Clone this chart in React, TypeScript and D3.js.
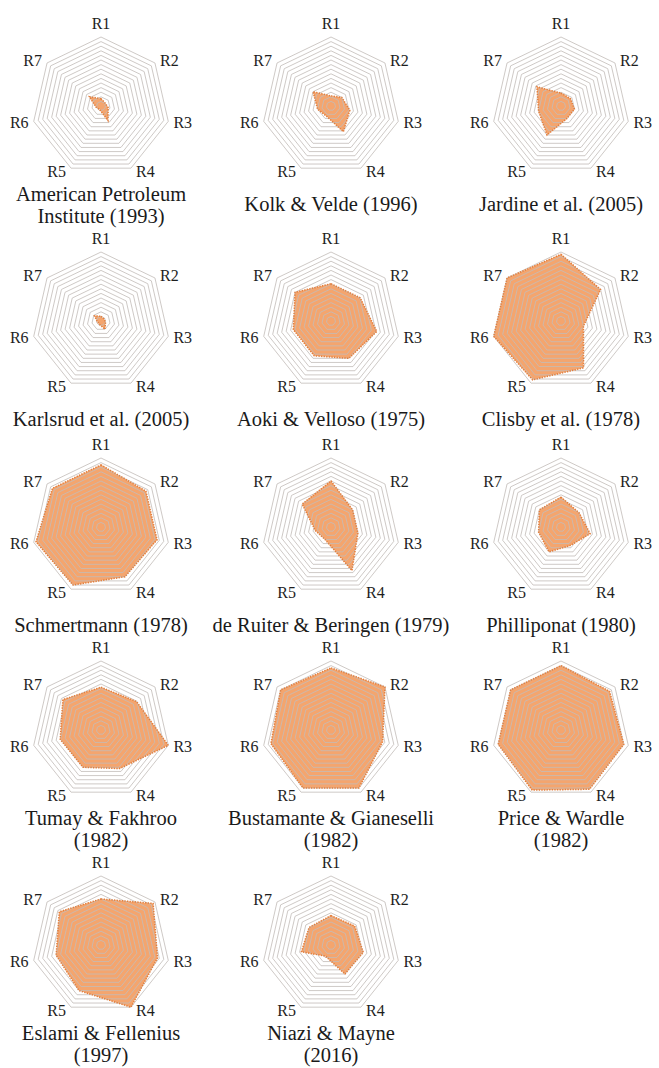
import React from "react";
import * as d3 from "d3";

const categories = ["R1", "R2", "R3", "R4", "R5", "R6", "R7"];
const ringLevels = [1, 2, 3, 4, 5, 6, 7, 8, 9, 10, 11, 12, 13, 14, 15];

const apiValues = [1.6, 1.1, 1.6, 3.5, 0.8, 1.1, 3.2];
const kolkValues = [2.2, 3, 4.2, 6.2, 2.4, 3, 5];
const jardineValues = [2.8, 2.6, 3, 3, 7, 5, 6.7];
const karlsrudValues = [1, 0.8, 1, 2, 0.8, 0.8, 1.8];
const aokiValues = [8.1, 8.1, 10.2, 9, 8.4, 8.4, 10];
const clisbyValues = [14.5, 11, 5, 11.3, 14.2, 15, 15];
const schmertmannValues = [13.5, 12.5, 12.5, 12, 14, 14.5, 13.5];
const deRuiterValues = [10, 6, 6, 10.5, 3, 3.5, 8];
const philliponatValues = [6.5, 5, 6.5, 4.5, 6, 5, 6];
const tumayValues = [9.3, 9.9, 15, 9.3, 9, 9.1, 10.6];
const bustamanteValues = [13.5, 15, 11.5, 14, 14, 13.4, 14];
const priceValues = [14, 13.5, 14, 14.3, 14.5, 14, 14];
const eslamiValues = [10, 14.5, 12.6, 15, 11, 10, 11.6];
const niaziValues = [6.4, 6.6, 7.2, 7, 2.7, 6.6, 6.1];

const titles = [
  ["American Petroleum", "Institute (1993)"],
  ["Kolk & Velde (1996)"],
  ["Jardine et al. (2005)"],
  ["Karlsrud et al. (2005)"],
  ["Aoki & Velloso (1975)"],
  ["Clisby et al. (1978)"],
  ["Schmertmann (1978)"],
  ["de Ruiter & Beringen (1979)"],
  ["Philliponat (1980)"],
  ["Tumay & Fakhroo", "(1982)"],
  ["Bustamante & Gianeselli", "(1982)"],
  ["Price & Wardle", "(1982)"],
  ["Eslami & Fellenius", "(1997)"],
  ["Niazi & Mayne", "(2016)"],
];

const seriesList = [
  apiValues, kolkValues, jardineValues, karlsrudValues, aokiValues, clisbyValues,
  schmertmannValues, deRuiterValues, philliponatValues, tumayValues, bustamanteValues,
  priceValues, eslamiValues, niaziValues,
];

const colCenters = [101, 331, 561];
const rowCenters = [106, 321, 527, 730, 945];
const R = 69;
const FONT = "Liberation Serif, Times New Roman, Times, serif";

const rScale = d3.scaleLinear().domain([0, 15]).range([0, R]);
const angle = (i: number) => (i * 2 * Math.PI) / categories.length;

const radial = d3
  .lineRadial<number>()
  .angle((_, i) => angle(i))
  .radius((d) => rScale(d))
  .curve(d3.curveLinearClosed);

function Radar({ values, title, cx, cy }: { values: number[]; title: string[]; cx: number; cy: number }) {
  return (
    <g transform={`translate(${cx},${cy})`}>
      <path d={radial(values) || ""} fill="#F4A56E" stroke="none" />
      {ringLevels.map((lv) => (
        <path
          key={lv}
          d={radial(categories.map(() => lv)) || ""}
          fill="none"
          stroke="#c2bcb8"
          strokeOpacity={0.9}
          strokeWidth={0.9}
        />
      ))}
      <path
        d={radial(values) || ""}
        fill="none"
        stroke="#E27F3E"
        strokeWidth={1.5}
        strokeDasharray="1.4,1.2"
      />
      {categories.map((c, i) => {
        const a = angle(i);
        const vx = rScale(15) * Math.sin(a);
        const vy = -rScale(15) * Math.cos(a);
        let x = vx;
        let y = vy;
        if (i === 0) {
          y = vy - 14;
        } else {
          x = vx + 14.5 * Math.sign(Math.sin(a));
          y = vy - 4 * Math.cos(a);
        }
        return (
          <text
            key={c}
            x={x}
            y={y}
            textAnchor="middle"
            dominantBaseline="central"
            style={{ fontFamily: FONT, fontSize: "16px" }}
            fill="#1e1e1e"
          >
            {c}
          </text>
        );
      })}
      {title.map((t, k) => (
        <text
          key={k}
          x={0}
          y={title.length === 1 ? 98 : 88 + k * 22}
          textAnchor="middle"
          dominantBaseline="central"
          style={{ fontFamily: FONT, fontSize: "20.5px" }}
          fill="#1a1a1a"
        >
          {t}
        </text>
      ))}
    </g>
  );
}

export default function App() {
  return (
    <div style={{ position: "absolute", left: 0, top: 0 }}>
      <svg width={659} height={1068} style={{ display: "block", background: "#fff" }}>
        <rect width={659} height={1068} fill="#fff" />
        {seriesList.map((vals, i) => (
          <Radar
            key={i}
            values={vals}
            title={titles[i]}
            cx={colCenters[i % 3]}
            cy={rowCenters[Math.floor(i / 3)]}
          />
        ))}
      </svg>
    </div>
  );
}
